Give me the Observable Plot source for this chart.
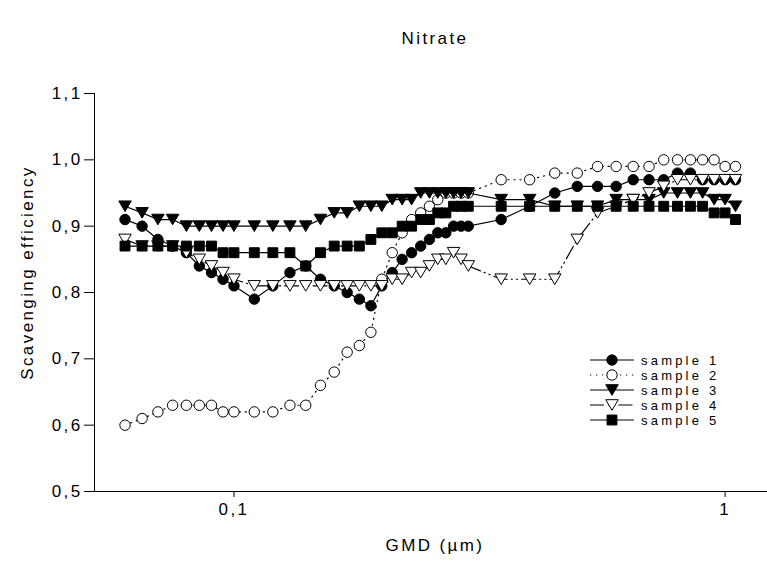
<!DOCTYPE html>
<html><head><meta charset="utf-8">
<script src="https://cdn.jsdelivr.net/npm/d3@7"></script>
<script src="https://cdn.jsdelivr.net/npm/@observablehq/plot@0.6"></script>
<style>
html,body{margin:0;padding:0;background:#fff;}
#chart{position:relative;width:767px;height:565px;overflow:hidden;}
#chart svg{position:absolute;left:0;top:0;}
</style></head><body><div id="chart"></div>
<script>
// ---- data ----
const title = "Nitrate";
const xLabel = "GMD (µm)";
const yLabel = "Scavenging efficiency";
const xDomain = [0.052, 1.22];
const yDomain = [0.5, 1.1];
const xTicks = [0.1, 1];
const xTickLabels = ["0,1", "1"];
const yTicks = [0.5, 0.6, 0.7, 0.8, 0.9, 1.0, 1.1];
const yTickLabels = ["0,5", "0,6", "0,7", "0,8", "0,9", "1,0", "1,1"];
const seriesNames = ["sample 1", "sample 2", "sample 3", "sample 4", "sample 5"];

const gmd = [0.06, 0.065, 0.07, 0.075, 0.08, 0.085, 0.09, 0.095,
  0.10, 0.11, 0.12, 0.13, 0.14, 0.15, 0.16, 0.17, 0.18, 0.19, 0.20,
  0.21, 0.22, 0.23, 0.24, 0.25, 0.26, 0.27, 0.28, 0.29, 0.30,
  0.35, 0.40, 0.45, 0.50, 0.55, 0.60, 0.65, 0.70, 0.75, 0.80, 0.85, 0.90, 0.95, 1.0, 1.05];

const sample1 = [0.91, 0.90, 0.88, 0.87, 0.86, 0.84, 0.83, 0.82,
  0.81, 0.79, 0.81, 0.83, 0.84, 0.82, 0.81, 0.80, 0.79, 0.78, 0.81,
  0.83, 0.85, 0.86, 0.87, 0.88, 0.89, 0.89, 0.90, 0.90, 0.90,
  0.91, 0.93, 0.95, 0.96, 0.96, 0.96, 0.97, 0.97, 0.97, 0.98, 0.98, 0.97, 0.97, 0.97, 0.97];
const sample2 = [0.60, 0.61, 0.62, 0.63, 0.63, 0.63, 0.63, 0.62,
  0.62, 0.62, 0.62, 0.63, 0.63, 0.66, 0.68, 0.71, 0.72, 0.74, 0.82,
  0.86, 0.89, 0.91, 0.92, 0.93, 0.94, 0.95, 0.95, 0.95, 0.95,
  0.97, 0.97, 0.98, 0.98, 0.99, 0.99, 0.99, 0.99, 1.00, 1.00, 1.00, 1.00, 1.00, 0.99, 0.99];
const sample3 = [0.93, 0.92, 0.91, 0.91, 0.90, 0.90, 0.90, 0.90,
  0.90, 0.90, 0.90, 0.90, 0.90, 0.91, 0.92, 0.92, 0.93, 0.93, 0.93,
  0.94, 0.94, 0.94, 0.95, 0.95, 0.95, 0.95, 0.95, 0.95, 0.95,
  0.94, 0.94, 0.93, 0.93, 0.93, 0.94, 0.94, 0.94, 0.95, 0.95, 0.95, 0.95, 0.94, 0.94, 0.93];
const sample4 = [0.88, 0.87, 0.87, 0.87, 0.86, 0.85, 0.84, 0.83,
  0.82, 0.81, 0.81, 0.81, 0.81, 0.81, 0.81, 0.81, 0.81, 0.81, 0.81,
  0.82, 0.82, 0.83, 0.83, 0.84, 0.85, 0.85, 0.86, 0.85, 0.84,
  0.82, 0.82, 0.82, 0.88, 0.92, 0.93, 0.94, 0.95, 0.96, 0.97, 0.97, 0.97, 0.97, 0.97, 0.97];
const sample5 = [0.87, 0.87, 0.87, 0.87, 0.87, 0.87, 0.87, 0.86,
  0.86, 0.86, 0.86, 0.86, 0.84, 0.86, 0.87, 0.87, 0.87, 0.88, 0.89,
  0.89, 0.90, 0.90, 0.91, 0.91, 0.92, 0.92, 0.93, 0.93, 0.93,
  0.93, 0.93, 0.93, 0.93, 0.93, 0.93, 0.93, 0.93, 0.93, 0.93, 0.93, 0.93, 0.92, 0.92, 0.91];
const seriesValues = [sample1, sample2, sample3, sample4, sample5];

// ---- symbols (sizes derived from r via Plot's size = PI*r^2) ----
const circleSym = {draw(ctx, size) { const r = Math.sqrt(size / Math.PI); ctx.moveTo(r, 0); ctx.arc(0, 0, r, 0, 2 * Math.PI); }};
const squareSym = {draw(ctx, size) { const r = Math.sqrt(size / Math.PI); const s = r * 0.95; ctx.rect(-s, -s, 2 * s, 2 * s); }};
const triDownSym = {draw(ctx, size) { const r = Math.sqrt(size / Math.PI); const a = r * 1.2, h = r * 1.02;
  ctx.moveTo(-a, -h); ctx.lineTo(a, -h); ctx.lineTo(0, h); ctx.closePath(); }};

const styles = [
  {symbol: circleSym, fill: "black", dash: null},
  {symbol: circleSym, fill: "white", dash: "1.2,4.8"},
  {symbol: triDownSym, fill: "black", dash: null},
  {symbol: triDownSym, fill: "white", dash: "14,4,1.2,4,1.2,4"},
  {symbol: squareSym, fill: "black", dash: null}
];

const rows = seriesNames.flatMap((name, i) => gmd.map((x, j) => ({name, x, y: seriesValues[i][j]})));

const fontFamily = "'Liberation Sans', Arial, sans-serif";
const marks = [
  Plot.ruleX([xDomain[0]], {stroke: "black", strokeWidth: 1}),
  Plot.ruleY([yDomain[0]], {stroke: "black", strokeWidth: 1}),
  Plot.axisX({ticks: xTicks, tickFormat: d => xTickLabels[xTicks.indexOf(d)], tickSize: 6, tickPadding: 5, label: null, fontSize: 17}),
  Plot.axisY({ticks: yTicks, tickFormat: d => yTickLabels[yTicks.findIndex(t => Math.abs(t - d) < 1e-9)], tickSize: 10, tickPadding: 2, label: null, fontSize: 17}),
  Plot.text([title], {frameAnchor: "top", dx: 4, dy: -62, text: d => d, fontSize: 17, textAnchor: "middle"}),
  Plot.text([xLabel], {frameAnchor: "bottom", dx: 4, dy: 59, text: d => d, fontSize: 17, textAnchor: "middle"}),
  Plot.text([yLabel], {frameAnchor: "left", dx: -67, dy: -20, rotate: -90, text: d => d, fontSize: 17, textAnchor: "middle"})
];
seriesNames.forEach((name, i) => {
  const d = rows.filter(r => r.name === name);
  const st = styles[i];
  marks.push(Plot.line(d, {x: "x", y: "y", stroke: "black", strokeWidth: 1.2, strokeDasharray: st.dash}));
  marks.push(Plot.dot(d, {x: "x", y: "y", symbol: st.symbol, r: 5.2, fill: st.fill, stroke: "black", strokeWidth: 1}));
});

const chart = Plot.plot({
  width: 767, height: 565,
  marginLeft: 94, marginRight: 0, marginTop: 93, marginBottom: 74,
  x: {type: "log", domain: xDomain},
  y: {domain: yDomain},
  style: {fontFamily, fontSize: "17px", color: "black", background: "white", letterSpacing: "2.4px"},
  marks
});
document.getElementById("chart").appendChild(chart);

// ---- legend overlay ----
const leg = d3.create("svg").attr("width", 767).attr("height", 565)
  .style("font-family", fontFamily).style("font-size", "13px").style("letter-spacing", "3.2px");
seriesNames.forEach((name, i) => {
  const st = styles[i];
  const y = 360 + 15 * i;
  const g = leg.append("g").attr("transform", `translate(0,${y})`);
  g.append("line").attr("x1", 590).attr("x2", 634).attr("y1", 0).attr("y2", 0)
    .attr("stroke", "black").attr("stroke-width", 1.2).attr("stroke-dasharray", st.dash);
  g.append("path").attr("transform", "translate(612,0)")
    .attr("d", d3.symbol(st.symbol, Math.PI * 5.2 * 5.2)())
    .attr("fill", st.fill).attr("stroke", "black");
  g.append("text").attr("x", 641).attr("y", 0).attr("dy", "0.35em").text(name);
});
document.getElementById("chart").appendChild(leg.node());
</script></body></html>
